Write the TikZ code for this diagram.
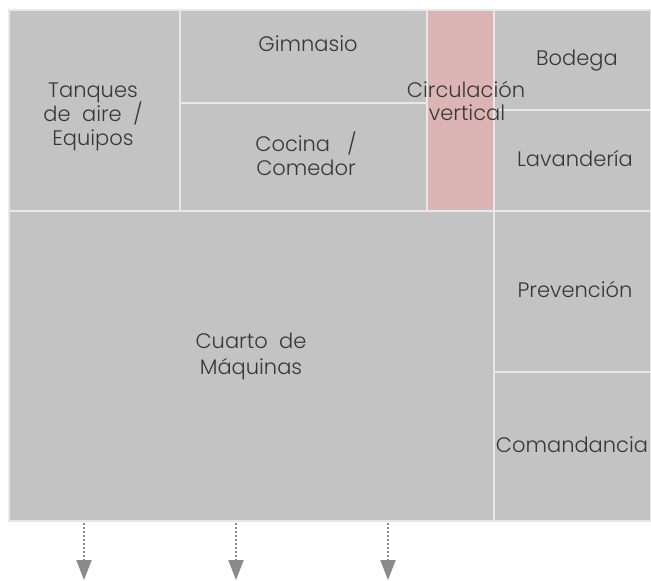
\documentclass[tikz,border=0pt]{standalone}
\usepackage{fontspec}
\setmainfont{Poppins}[UprightFont={* Light}]
\usetikzlibrary{arrows.meta}
\definecolor{roomgray}{HTML}{C3C3C3}
\definecolor{wallline}{HTML}{E8E8E8}
\definecolor{pinkc}{HTML}{DDB4B4}
\definecolor{txt}{HTML}{383838}
\definecolor{arrgray}{HTML}{8A8A8A}
\begin{document}
\begin{tikzpicture}[x=1pt,y=-1pt,
  room/.style={draw=wallline, fill=roomgray, line width=2.5pt, inner sep=0pt, outer sep=0pt, rectangle},
  lbl/.style={text=txt, font=\fontsize{21}{25}\selectfont, anchor=base, inner sep=0pt, align=center},
  flow/.style={draw=arrgray, line width=2pt, dash pattern=on 1.6pt off 2.4pt, -{Triangle[width=15pt,length=20pt]}, arrgray}]
\useasboundingbox (0,0) rectangle (651,581);
\fill[white] (0,0) rectangle (651,581);
% rooms
\node[room, minimum width=171pt, minimum height=201pt] (tanques) at (94.5,110.5) {};
\node[room, minimum width=247pt, minimum height=93pt] (gimnasio) at (303.5,56.5) {};
\node[room, minimum width=247pt, minimum height=108pt] (cocina) at (303.5,157) {};
\node[room, fill=pinkc, minimum width=67pt, minimum height=201pt] (circ) at (460.5,110.5) {};
\node[room, minimum width=157pt, minimum height=100pt] (bodega) at (572.5,60) {};
\node[room, minimum width=157pt, minimum height=101pt] (lav) at (572.5,160.5) {};
\node[room, minimum width=485pt, minimum height=310pt] (cuarto) at (251.5,366) {};
\node[room, minimum width=157pt, minimum height=161pt] (prev) at (572.5,291.5) {};
\node[room, minimum width=157pt, minimum height=149pt] (coman) at (572.5,446.5) {};
% labels
\node[lbl] (t1) at (93,97) {Tanques};
\node[lbl] (t2) at (93,121) {de\ \ aire\ \ /};
\node[lbl] (t3) at (93,145) {Equipos};
\node[lbl] (g1) at (308,51) {Gimnasio};
\node[lbl] (c1) at (306,151) {Cocina\ \ \ /};
\node[lbl] (c2) at (306,175) {Comedor};
\node[lbl] (v1) at (466,97) {Circulación};
\node[lbl] (v2) at (467,120) {vertical};
\node[lbl] (b1) at (577,65) {Bodega};
\node[lbl] (l1) at (575,166) {Lavandería};
\node[lbl] (p1) at (575,297) {Prevención};
\node[lbl] (m1) at (572,452) {Comandancia};
\node[lbl] (q1) at (251,348) {Cuarto\ \ de};
\node[lbl] (q2) at (251,374) {Máquinas};
% arrows
\coordinate (e1) at (84,580);
\coordinate (e2) at (236,580);
\coordinate (e3) at (388,580);
\draw[flow, shorten <=2pt] (cuarto.south -| e1) -- (e1);
\draw[flow, shorten <=2pt] (cuarto.south -| e2) -- (e2);
\draw[flow, shorten <=2pt] (cuarto.south -| e3) -- (e3);
\end{tikzpicture}
\end{document}
